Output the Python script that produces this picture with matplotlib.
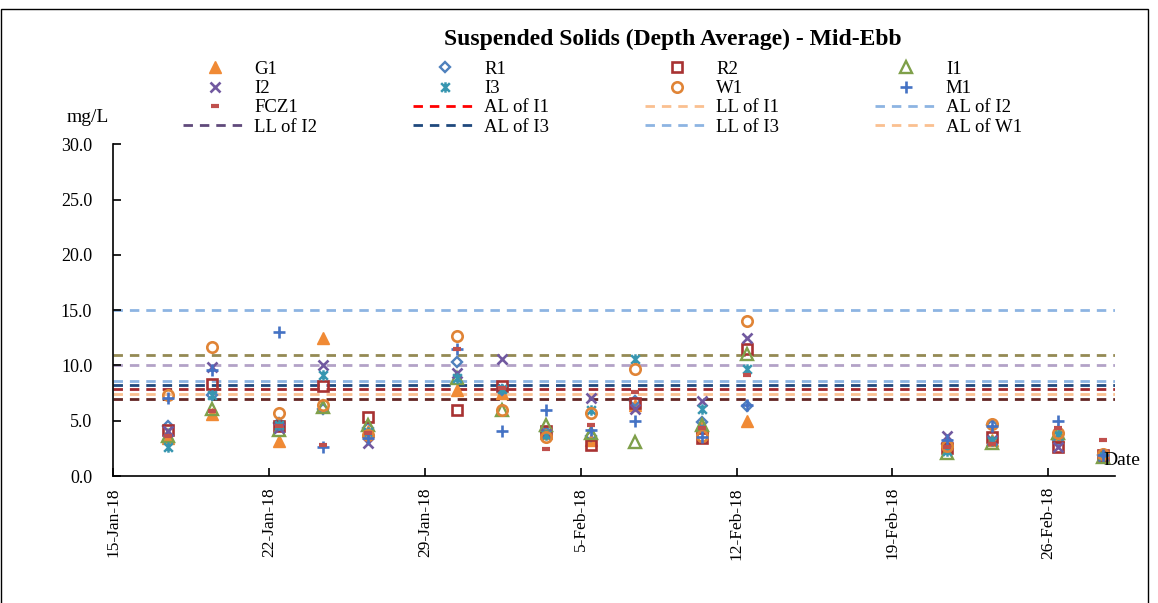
import datetime
import matplotlib
matplotlib.use('Agg')
import matplotlib.pyplot as plt
from matplotlib.lines import Line2D
from matplotlib.patches import Rectangle
from matplotlib.path import Path

# === data ===
dates = ['2018-01-17', '2018-01-19', '2018-01-22', '2018-01-24', '2018-01-26',
         '2018-01-30', '2018-02-01', '2018-02-03', '2018-02-05', '2018-02-07',
         '2018-02-10', '2018-02-12', '2018-02-21', '2018-02-23', '2018-02-26',
         '2018-02-28']
sample_time = '10:50'

g1 = [3.4, 5.6, 3.2, 12.5, 4.1, 7.8, 7.5, 3.9, 3.3, 6.4, 4.4, 5.0, 3.1, 3.3, 3.6, 1.8]
r1 = [4.5, 7.3, 4.8, 6.1, 4.3, 10.3, 7.8, 4.0, 3.6, 6.8, 4.9, 6.3, 2.9, 4.6, 3.3, 1.9]
r2 = [4.2, 8.3, 4.5, 8.1, 5.3, 6.0, 8.1, 4.1, 2.8, 6.6, 3.4, 11.5, 2.5, 3.5, 2.6, 1.9]
i1 = [3.6, 6.1, 4.2, 6.2, 4.6, 8.9, 6.0, 4.6, 3.9, 3.1, 4.6, 11.0, 2.1, 3.0, 3.9, 1.7]
i2 = [4.1, 9.9, 4.3, 10.0, 3.0, 9.3, 10.6, 3.8, 7.1, 6.1, 6.8, 12.5, 3.6, 3.3, 2.6, 1.8]
i3 = [2.6, 7.3, 4.6, 9.1, 4.0, 8.9, 7.9, 3.7, 6.0, 10.6, 6.1, 9.7, 2.3, 3.2, 3.7, 1.8]
w1 = [7.3, 11.7, 5.7, 6.4, 3.7, 12.7, 6.0, 3.5, 5.7, 9.7, 3.6, 14.0, 2.7, 4.7, 3.9, 2.0]
m1 = [7.1, 9.6, 13.0, 2.6, 3.4, 11.5, 4.1, 6.0, 4.2, 5.0, 3.5, 6.4, 3.3, 4.5, 5.0, 1.9]
fcz1 = [3.6, 5.9, 4.5, 2.8, 3.9, 11.5, 8.0, 2.4, 4.6, 7.6, 4.3, 9.1, 2.6, 2.9, 4.3, 3.3]

# horizontal limit lines drawn in the plot
limit_levels = [15.0, 10.9, 10.0, 8.6, 8.2, 7.9, 7.4, 7.0]
limit_colors = ['#8DB4E2', '#948A54', '#B3A2C7', '#8DB4E2', '#1F497D', '#A0282D', '#FAC090', '#632523']

# limit-line entries shown in the legend
legend_lines = ['AL of I1', 'LL of I1', 'AL of I2', 'LL of I2', 'AL of I3', 'LL of I3', 'AL of W1']
legend_line_colors = ['#FF0000', '#FAC090', '#8DB4E2', '#604A7B', '#1F497D', '#8DB4E2', '#FAC090']

tick_dates = ['2018-01-15', '2018-01-22', '2018-01-29', '2018-02-05',
              '2018-02-12', '2018-02-19', '2018-02-26']
x_start = '2018-01-15'
x_end = '2018-03-01'

# === style ===
plt.rcParams['font.family'] = ['Liberation Serif', 'DejaVu Serif']

# Excel "star": an x crossed by a vertical bar
star = Path([(-1, -1), (1, 1), (-1, 1), (1, -1), (0, -1.2), (0, 1.2)],
            [Path.MOVETO, Path.LINETO, Path.MOVETO, Path.LINETO, Path.MOVETO, Path.LINETO])

series = [
    ('G1', g1, dict(marker='^', color='#F08A35', mfc='#F08A35', ms=8, mew=1)),
    ('R1', r1, dict(marker='D', color='#4F81BD', mfc='none', ms=5.5, mew=1.7)),
    ('R2', r2, dict(marker='s', color='#A83232', mfc='none', ms=7, mew=1.9)),
    ('I1', i1, dict(marker='^', color='#7FA04A', mfc='none', ms=8, mew=1.7)),
    ('I2', i2, dict(marker='x', color='#7159A0', ms=7, mew=1.9)),
    ('I3', i3, dict(marker=star, color='#3796B0', ms=7.5, mew=1.8)),
    ('W1', w1, dict(marker='o', color='#E08436', mfc='none', ms=7.5, mew=1.9)),
    ('M1', m1, dict(marker='+', color='#4472C4', ms=8, mew=1.9)),
    ('FCZ1', fcz1, dict(marker='_', color='#C0504D', ms=6, mew=3)),
]

x = [datetime.datetime.fromisoformat(d + ' ' + sample_time) for d in dates]
ticks = [datetime.datetime.fromisoformat(d) for d in tick_dates]

fig = plt.figure(figsize=(11.58, 6.03), dpi=100)
ax = fig.add_axes([0.0976, 0.2106, 0.8654, 0.5501])

for lvl, col in zip(limit_levels, limit_colors):
    ax.axhline(lvl, color=col, lw=2, dashes=(3.4, 2.5), zorder=1)

handles = []
for name, vals, st in series:
    h, = ax.plot(x, vals, ls='none', label=name, zorder=3, **st)
    handles.append(h)
for name, col in zip(legend_lines, legend_line_colors):
    handles.append(Line2D([], [], color=col, lw=2, dashes=(3.4, 2.5), label=name))

ax.set_ylim(0, 30)
ax.set_yticks([0, 5, 10, 15, 20, 25, 30])
ax.set_yticklabels([f'{v:.1f}' for v in [0, 5, 10, 15, 20, 25, 30]])
ax.set_xlim(datetime.datetime.fromisoformat(x_start), datetime.datetime.fromisoformat(x_end))
ax.set_xticks(ticks)
ax.set_xticklabels([f'{d.day}-{d:%b-%y}' for d in ticks], rotation=90)

for s in ('top', 'right'):
    ax.spines[s].set_visible(False)
for s in ('left', 'bottom'):
    ax.spines[s].set_linewidth(1.2)
ax.tick_params(axis='y', direction='in', length=6, width=1.2, labelsize=13, pad=15)
ax.tick_params(axis='x', direction='in', length=6, width=1.2, labelsize=12.5, pad=8)

# legend, filled row by row
ncol = 4
nrow = (len(handles) + ncol - 1) // ncol
ordered = [handles[r * ncol + c] for c in range(ncol) for r in range(nrow) if r * ncol + c < len(handles)]
fig.legend(handles=ordered, loc='upper left', bbox_to_anchor=(0.158, 0.899), ncol=ncol,
           frameon=False, fontsize=13.5, handlelength=3.4, handletextpad=0.4,
           columnspacing=5.1, labelspacing=0.11, borderpad=0, borderaxespad=0)

fig.text(0.581, 0.934, 'Suspended Solids (Depth Average) - Mid-Ebb', ha='center', va='center',
         fontsize=17, fontweight='bold')
fig.text(0.076, 0.805, 'mg/L', ha='center', va='center', fontsize=14)
fig.text(0.985, 0.237, 'Date', ha='right', va='center', fontsize=14)

fig.patches.append(Rectangle((0.0005, -0.01), 0.9905, 0.995, transform=fig.transFigure,
                             fill=False, edgecolor='black', lw=1))

fig.savefig('out.png', dpi=100)
